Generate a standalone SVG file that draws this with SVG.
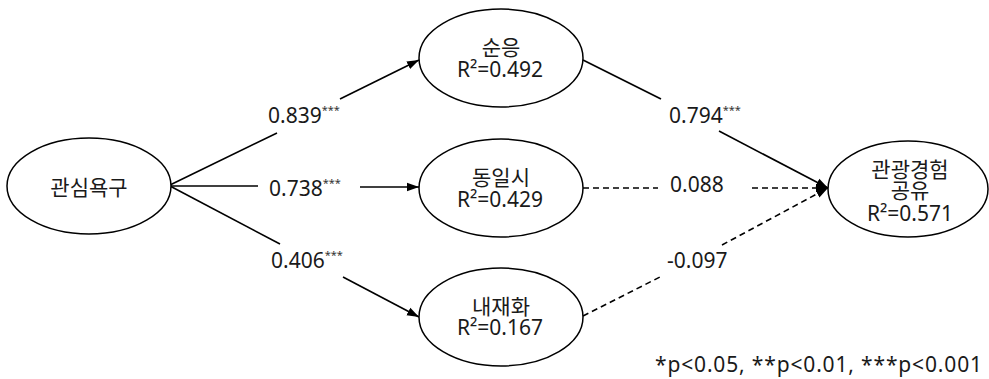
<svg xmlns="http://www.w3.org/2000/svg" width="989" height="379" viewBox="0 0 989 379">
<defs>
<marker id="ah" markerUnits="userSpaceOnUse" markerWidth="12" markerHeight="10" viewBox="0 0 12 10" refX="12" refY="5" orient="auto">
<path d="M0,0.8 L12,5 L0,9.2 z" fill="#000"/>
</marker>
<style>
.node ellipse{fill:#fff;stroke:#000;stroke-width:1.5}
text{font-family:"Noto Sans","Noto Sans CJK KR",sans-serif;fill:#1a1a1a;font-size:21px}
.t{text-anchor:middle}
.k{font-family:"Noto Sans CJK KR",sans-serif;font-size:21px}
.e{stroke:#000;stroke-width:1.6;fill:none}
.d{stroke-dasharray:6,4}
.sup{font-size:11px;fill:#333}
</style>
</defs>
<rect width="989" height="379" fill="#fff"/>
<g id="connectors">
<line class="e" x1="170" y1="185" x2="277" y2="133"/>
<line class="e" x1="340" y1="99" x2="419" y2="60" marker-end="url(#ah)"/>
<line class="e" x1="170" y1="186" x2="258" y2="186"/>
<line class="e" x1="360" y1="187" x2="419" y2="187" marker-end="url(#ah)"/>
<line class="e" x1="170" y1="186" x2="280" y2="244"/>
<line class="e" x1="343" y1="277" x2="419" y2="317" marker-end="url(#ah)"/>
<line class="e" x1="583" y1="60" x2="661" y2="99"/>
<line class="e" x1="719" y1="131" x2="828" y2="188" marker-end="url(#ah)"/>
<line class="e d" x1="583" y1="188" x2="658" y2="188"/>
<line class="e d" x1="752" y1="188" x2="828" y2="188" marker-end="url(#ah)"/>
<line class="e d" x1="583" y1="316" x2="660" y2="277"/>
<line class="e d" x1="722" y1="245" x2="828" y2="188" marker-end="url(#ah)"/>
<text x="268" y="123" font-size="22">0.839<tspan class="sup" dy="-9">***</tspan></text>
<text x="269" y="196" font-size="22">0.738<tspan class="sup" dy="-9">***</tspan></text>
<text x="271" y="268" font-size="22">0.406<tspan class="sup" dy="-9">***</tspan></text>
<text x="669" y="123" font-size="22">0.794<tspan class="sup" dy="-9">***</tspan></text>
<text x="670" y="192" font-size="22">0.088</text>
<text x="667" y="268" font-size="22">-0.097</text>
</g>
<g id="n1" class="node">
<ellipse cx="89" cy="186" rx="82" ry="48"/>
<text class="t k" x="89" y="195">관심욕구</text>
</g>
<g id="n2" class="node">
<ellipse cx="501" cy="58" rx="82" ry="49"/>
<text class="t k" x="501" y="55">순응</text>
<text class="t" x="500" y="77">R²=0.492</text>
</g>
<g id="n3" class="node">
<ellipse cx="501" cy="188" rx="82" ry="49"/>
<text class="t k" x="501" y="185">동일시</text>
<text class="t" x="500" y="207">R²=0.429</text>
</g>
<g id="n4" class="node">
<ellipse cx="501" cy="317" rx="82" ry="49"/>
<text class="t k" x="501" y="314">내재화</text>
<text class="t" x="500" y="335">R²=0.167</text>
</g>
<g id="n5" class="node">
<ellipse cx="908" cy="189" rx="80" ry="48"/>
<text class="t k" x="910" y="177">관광경험</text>
<text class="t k" x="910" y="198">공유</text>
<text class="t" x="910" y="221">R²=0.571</text>
</g>
<text x="655" y="372" textLength="327" lengthAdjust="spacing">*p&lt;0.05, **p&lt;0.01, ***p&lt;0.001</text>
</svg>
